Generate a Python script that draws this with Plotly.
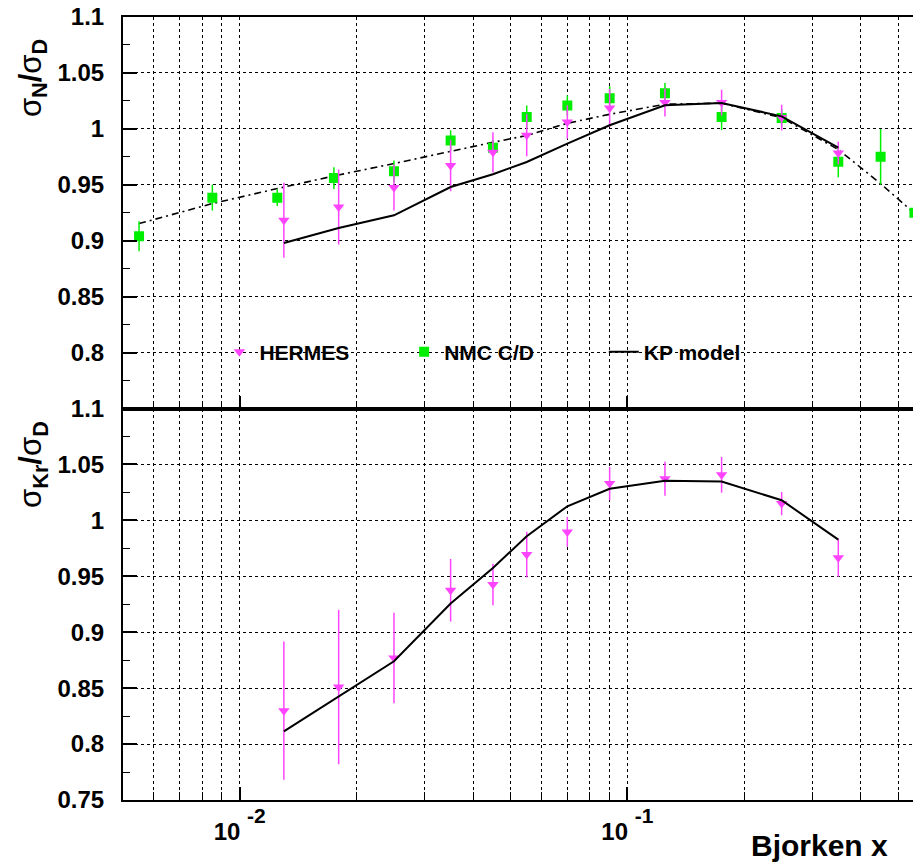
import math
import plotly.graph_objects as go
from plotly.subplots import make_subplots

# ---------------- data ----------------
nmc_x = [0.0055, 0.0085, 0.0125, 0.0175, 0.025, 0.035, 0.045, 0.055, 0.07, 0.09,
         0.125, 0.175, 0.25, 0.35, 0.45, 0.55]
nmc_y = [0.904, 0.9385, 0.9385, 0.956, 0.962, 0.9895, 0.983, 1.0106, 1.0208, 1.0273,
         1.0318, 1.0106, 1.0097, 0.9707, 0.975, 0.925]
nmc_err = [0.0134, 0.0115, 0.0075, 0.0097, 0.0097, 0.0092, 0.007, 0.0103, 0.009, 0.0107,
           0.0092, 0.0116, 0.008, 0.0139, 0.0249, 0.037]
nmc_fit = [0.9153, 0.9332, 0.9466, 0.9579, 0.969, 0.980, 0.988, 0.994, 1.005, 1.013,
           1.022, 1.023, 1.010, 0.9815, 0.951, 0.9245]

hermes_x = [0.013, 0.018, 0.025, 0.035, 0.045, 0.055, 0.07, 0.09, 0.125, 0.175, 0.25, 0.35]
hermes_n = [0.9183, 0.9302, 0.9475, 0.9672, 0.979, 0.9943, 1.0061, 1.0187, 1.0235, 1.0235,
            1.0101, 0.9784]
hermes_n_err = [0.0335, 0.0335, 0.0204, 0.023, 0.018, 0.0188, 0.0149, 0.017, 0.0125, 0.0115,
                0.0115, 0.01]
kp_n = [0.898, 0.9114, 0.9227, 0.948, 0.9594, 0.9704, 0.9868, 1.0032, 1.0211, 1.0232,
        1.0112, 0.9832]

hermes_kr = [0.8299, 0.851, 0.877, 0.9375, 0.9426, 0.9694, 0.9897, 1.0329, 1.0371, 1.0407,
             1.015, 0.9665]
hermes_kr_err = [0.0619, 0.069, 0.0405, 0.028, 0.0186, 0.0204, 0.0134, 0.0149, 0.0152, 0.016,
                 0.0104, 0.017]
kp_kr = [0.8114, 0.8427, 0.874, 0.9256, 0.9575, 0.9858, 1.0126, 1.0282, 1.0353, 1.0347,
         1.018, 0.9828]

x_major = [0.01, 0.1]
x_major_text = ["10 <sup><sup><span style='font-size:21px'>-2</span></sup></sup>",
                "10 <sup><sup><span style='font-size:21px'>-1</span></sup></sup>"]
x_minor = [0.006, 0.007, 0.008, 0.009, 0.02, 0.03, 0.04, 0.05, 0.06, 0.07, 0.08, 0.09,
           0.2, 0.3, 0.4, 0.5]
y_top_ticks = [0.8, 0.85, 0.9, 0.95, 1.0, 1.05, 1.1]
y_top_text = ["0.8", "0.85", "0.9", "0.95", "1", "1.05", "1.1"]
y_bot_ticks = [0.75, 0.8, 0.85, 0.9, 0.95, 1.0, 1.05, 1.1]
y_bot_text = ["0.75", "0.8", "0.85", "0.9", "0.95", "1", "1.05", "1.1"]
y_minor = [0.775, 0.825, 0.875, 0.925, 0.975, 1.025, 1.075]

MAG = "#ff44ff"
GRN = "#00ee00"
FONT = "Liberation Sans, Arial, Helvetica, sans-serif"

fig = make_subplots(rows=2, cols=1, shared_xaxes=True, vertical_spacing=0)

# ---- top panel ----
fig.add_trace(go.Scatter(x=nmc_x, y=nmc_fit, mode="lines", showlegend=False,
                         line=dict(color="black", width=1.6, dash="7px,4px,2px,4px")), row=1, col=1)
fig.add_trace(go.Scatter(x=nmc_x, y=nmc_y, mode="markers", name="NMC C/D", legend="legend2",
                         marker=dict(symbol="square", size=10, color=GRN),
                         error_y=dict(type="data", array=nmc_err, width=0, thickness=1.5, color=GRN)),
              row=1, col=1)
fig.add_trace(go.Scatter(x=hermes_x, y=hermes_n, mode="markers", name="HERMES", legend="legend",
                         marker=dict(symbol="triangle-down", size=10, color=MAG),
                         error_y=dict(type="data", array=hermes_n_err, width=0, thickness=1.5, color=MAG)),
              row=1, col=1)
fig.add_trace(go.Scatter(x=hermes_x, y=kp_n, mode="lines", name="KP model", legend="legend3",
                         line=dict(color="black", width=2)), row=1, col=1)

# ---- bottom panel ----
fig.add_trace(go.Scatter(x=hermes_x, y=hermes_kr, mode="markers", showlegend=False,
                         marker=dict(symbol="triangle-down", size=10, color=MAG),
                         error_y=dict(type="data", array=hermes_kr_err, width=0, thickness=1.5, color=MAG)),
              row=2, col=1)
fig.add_trace(go.Scatter(x=hermes_x, y=kp_kr, mode="lines", showlegend=False,
                         line=dict(color="black", width=2)), row=2, col=1)

tickfont = dict(family=FONT, size=24, color="black", weight="bold")
xcommon = dict(type="log", range=[math.log10(0.005), math.log10(0.572)], automargin=False,
               tickvals=x_major, ticktext=x_major_text, ticks="inside", ticklen=13,
               tickwidth=1.5, tickcolor="black",
               showgrid=True, gridcolor="black", griddash="dot", gridwidth=1,
               showline=True, linecolor="black", linewidth=2, mirror=True,
               tickfont=tickfont, ticklabelstandoff=9, ticklabeloverflow="allow",
               minor=dict(tickvals=x_minor, ticks="inside", ticklen=8, tickwidth=1.2,
                          tickcolor="black", showgrid=True, gridcolor="black",
                          griddash="dot", gridwidth=1))
fig.update_xaxes(**xcommon)
fig.update_xaxes(showticklabels=False, row=1, col=1)

ycommon = dict(range=[0.75, 1.1], automargin=False, ticks="inside", ticklen=14, tickwidth=1.5,
               tickcolor="black",
               showgrid=True, gridcolor="black", griddash="dot", gridwidth=1,
               showline=True, linecolor="black", linewidth=2, mirror=True,
               tickfont=tickfont, ticklabelstandoff=12, zeroline=False,
               ticklabeloverflow="allow",
               minor=dict(tickvals=y_minor, ticks="inside", ticklen=7, tickwidth=1.2,
                          tickcolor="black", showgrid=False))
fig.update_yaxes(**ycommon)
fig.update_yaxes(tickvals=y_top_ticks, ticktext=y_top_text, row=1, col=1)
fig.update_yaxes(tickvals=y_bot_ticks, ticktext=y_bot_text, row=2, col=1)

legfont = dict(family=FONT, size=21, color="black", weight="bold")
legcommon = dict(orientation="h", y=0.572, xanchor="left", yanchor="middle",
                 bgcolor="rgba(0,0,0,0)", font=legfont)

# the page body adds an 8 px offset, so the figure is 8 px smaller than the window
fig.update_layout(
    width=913, height=856,
    margin=dict(l=115, r=0, t=9, b=64, autoexpand=False),
    plot_bgcolor="white", paper_bgcolor="white",
    font=dict(family=FONT, color="black"),
    showlegend=True,
    legend=dict(x=0.1208, **legcommon),
    legend2=dict(x=0.3523, **legcommon),
    legend3=dict(x=0.6025, **legcommon),
    annotations=[
        dict(text="σ<sub><b>N</b></sub><b>/</b>σ<sub><b>D</b></sub>", xref="paper", yref="paper",
             x=(33 - 123) / 798, y=0.922, textangle=-90, showarrow=False,
             font=dict(family=FONT, size=31, color="black"), xanchor="center", yanchor="middle"),
        dict(text="σ<sub><b>Kr</b></sub><b>/</b>σ<sub><b>D</b></sub>", xref="paper", yref="paper",
             x=(33 - 123) / 798, y=0.428, textangle=-90, showarrow=False,
             font=dict(family=FONT, size=31, color="black"), xanchor="center", yanchor="middle"),
        dict(text="Bjorken x", xref="paper", yref="paper", x=0.961, y=-0.0575,
             xanchor="right", yanchor="middle", showarrow=False,
             font=dict(family=FONT, size=30, color="black", weight="bold")),
    ],
)

fig.write_html("out.html")
